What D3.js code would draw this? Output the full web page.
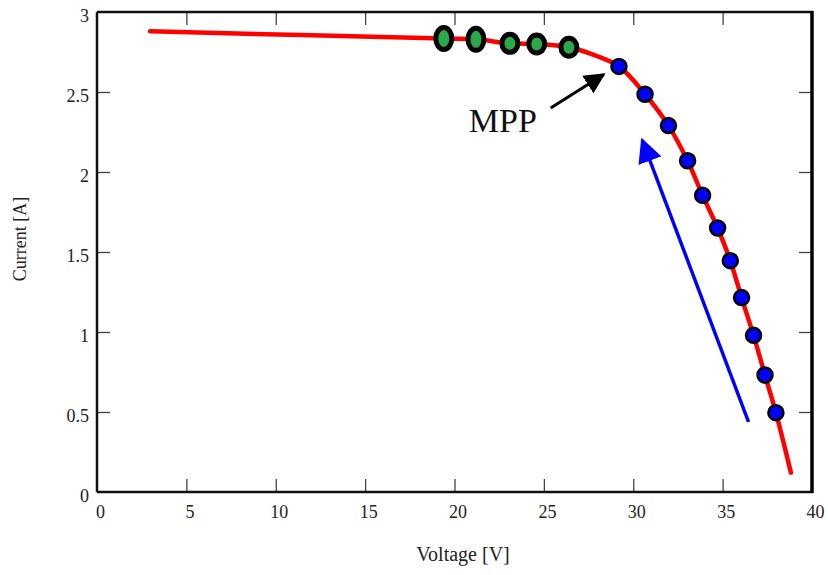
<!DOCTYPE html>
<html>
<head>
<meta charset="utf-8">
<script src="https://cdn.jsdelivr.net/npm/d3@7"></script>
<style>
  body { margin: 0; background: #fff; }
  svg { display: block; }
  text { font-family: "Liberation Serif", "DejaVu Serif", serif; }
</style>
</head>
<body>
<svg id="chart" width="828" height="575"></svg>
<script>
// ---- data ----
const xTicks = [0, 5, 10, 15, 20, 25, 30, 35, 40];
const yTicks = [0, 0.5, 1, 1.5, 2, 2.5, 3];
// I-V curve (red line)
const curveV = [2.97, 19.4, 21.2, 23.1, 24.6, 26.4, 27.6, 29.2, 30.66, 31.97, 33.04, 33.88, 34.72, 35.43, 36.06, 36.73, 37.37, 37.98, 38.82];
const curveI = [2.879, 2.834, 2.829, 2.804, 2.80, 2.78, 2.74, 2.66, 2.486, 2.29, 2.07, 1.854, 1.65, 1.446, 1.215, 0.979, 0.731, 0.496, 0.121];
// green operating points
const greenV = [19.4, 21.2, 23.1, 24.6, 26.4];
const greenI = [2.834, 2.829, 2.804, 2.80, 2.78];
// blue operating points (MPP first)
const blueV = [29.2, 30.66, 31.97, 33.04, 33.88, 34.72, 35.43, 36.06, 36.73, 37.37, 37.98];
const blueI = [2.66, 2.486, 2.29, 2.07, 1.854, 1.65, 1.446, 1.215, 0.979, 0.731, 0.496];
// annotation arrows [V, I]
const mppArrow = [[25.38, 2.40], [28.35, 2.61]];
const blueArrow = [[36.45, 0.4375], [30.5, 2.2]];
const mppLabel = { text: "MPP", v: 20.8, i: 2.248 };

// ---- chart ----
const svg = d3.select("#chart");
const x = d3.scaleLinear().domain([0, 40]).range([97, 812]);
const y = d3.scaleLinear().domain([0, 3]).range([492, 12]);

const defs = svg.append("defs");
function marker(id, color) {
  defs.append("marker")
    .attr("id", id).attr("viewBox", "0 0 10 10")
    .attr("refX", 9).attr("refY", 5)
    .attr("markerWidth", 7).attr("markerHeight", 7)
    .attr("markerUnits", "strokeWidth")
    .attr("orient", "auto")
    .append("path").attr("d", "M0,0 L10,5 L0,10 z").attr("fill", color);
}
marker("arrBlack", "#000");
marker("arrBlue", "#0000ff");

// axes (inward ticks on all sides)
const tickLen = 13;
const gB = svg.append("g").attr("transform", `translate(0,${y(0)})`)
  .call(d3.axisBottom(x).tickValues(xTicks).tickSize(-tickLen).tickPadding(13).tickFormat(d3.format("d")));
const gT = svg.append("g").attr("transform", `translate(0,${y(3)})`)
  .call(d3.axisTop(x).tickValues(xTicks).tickSize(-tickLen).tickFormat(""));
const gL = svg.append("g").attr("transform", `translate(${x(0)},0)`)
  .call(d3.axisLeft(y).tickValues(yTicks).tickSize(-tickLen).tickPadding(8).tickFormat(d => d3.format("")(d)));
const gR = svg.append("g").attr("transform", `translate(${x(40)},0)`)
  .call(d3.axisRight(y).tickValues(yTicks).tickSize(-tickLen).tickFormat(""));

[gB, gT, gL, gR].forEach(g => {
  g.select(".domain").remove();
  g.selectAll(".tick line").attr("stroke", "#444").attr("stroke-width", 1.3);
  g.selectAll(".tick text").attr("fill", "#222").style("font-size", "18px")
    .style("font-family", "'Liberation Serif', serif");
});
gL.selectAll(".tick text").attr("dy", "0.55em");
gB.selectAll(".tick text").attr("dx", 3);
gL.selectAll(".tick").filter(d => d === 0 || d === 3).select("line").remove();
gR.selectAll(".tick").filter(d => d === 0 || d === 3).select("line").remove();
gB.selectAll(".tick").filter(d => d === 0 || d === 40).select("line").remove();
gT.selectAll(".tick").filter(d => d === 0 || d === 40).select("line").remove();

// frame
svg.append("line").attr("x1", x(0)).attr("x2", x(40)).attr("y1", y(3)).attr("y2", y(3)).attr("stroke", "#111").attr("stroke-width", 2.5);
svg.append("line").attr("x1", x(0)).attr("x2", x(40)).attr("y1", y(0)).attr("y2", y(0)).attr("stroke", "#111").attr("stroke-width", 2.5);
svg.append("line").attr("x1", x(0)).attr("x2", x(0)).attr("y1", y(3)).attr("y2", y(0)).attr("stroke", "#111").attr("stroke-width", 2.5);
svg.append("line").attr("x1", x(40)).attr("x2", x(40)).attr("y1", y(3) - 1).attr("y2", y(0) + 1).attr("stroke", "#000").attr("stroke-width", 3.5);

// axis titles
svg.append("text").attr("x", 463).attr("y", 561).attr("text-anchor", "middle")
  .style("font-size", "20px").attr("fill", "#222").text("Voltage [V]");
svg.append("text").attr("transform", "translate(26,239) rotate(-90)").attr("text-anchor", "middle")
  .style("font-size", "18px").attr("fill", "#222").text("Current [A]");

// red I-V curve
const pts = curveV.map((v, k) => [v, curveI[k]]);
svg.append("path").datum(pts)
  .attr("d", d3.line().x(d => x(d[0])).y(d => y(d[1])).curve(d3.curveCatmullRom.alpha(0.5)))
  .attr("fill", "none").attr("stroke", "#ff0000").attr("stroke-width", 4.5).attr("stroke-linecap", "round");

// green points (elliptical)
svg.selectAll(".g").data(greenV.map((v, k) => [v, greenI[k]])).enter()
  .append("ellipse")
  .attr("cx", d => x(d[0])).attr("cy", d => y(d[1]))
  .attr("rx", 8).attr("ry", (d, k) => k < 2 ? 11 : 9)
  .attr("fill", "#2aa84a").attr("stroke", "#000").attr("stroke-width", 5);

// blue points
svg.selectAll(".b").data(blueV.map((v, k) => [v, blueI[k]])).enter()
  .append("circle")
  .attr("cx", d => x(d[0])).attr("cy", d => y(d[1])).attr("r", 7.5)
  .attr("fill", "#0000ff").attr("stroke", "#000").attr("stroke-width", 2.5);

// MPP arrow and label
svg.append("line")
  .attr("x1", x(mppArrow[0][0])).attr("y1", y(mppArrow[0][1]))
  .attr("x2", x(mppArrow[1][0])).attr("y2", y(mppArrow[1][1]))
  .attr("stroke", "#000").attr("stroke-width", 3).attr("marker-end", "url(#arrBlack)");
svg.append("text").attr("x", x(mppLabel.v)).attr("y", y(mppLabel.i))
  .style("font-size", "34px").attr("fill", "#111").text(mppLabel.text);

// blue direction arrow
svg.append("line")
  .attr("x1", x(blueArrow[0][0])).attr("y1", y(blueArrow[0][1]))
  .attr("x2", x(blueArrow[1][0])).attr("y2", y(blueArrow[1][1]))
  .attr("stroke", "#0000ff").attr("stroke-width", 3.5).attr("marker-end", "url(#arrBlue)");
</script>
</body>
</html>
